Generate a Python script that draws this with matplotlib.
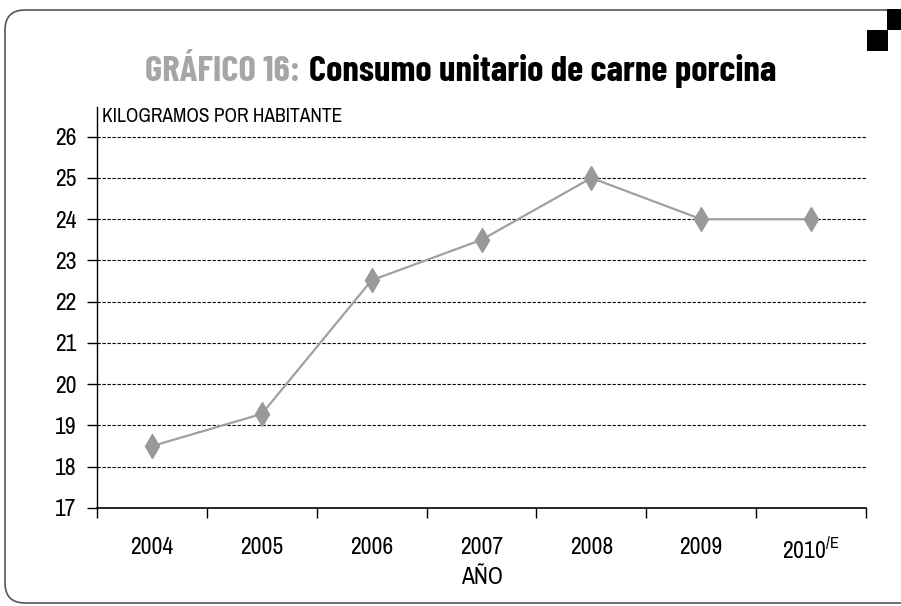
import numpy as np
import matplotlib
matplotlib.use("Agg")
import matplotlib.pyplot as plt
from matplotlib.patches import FancyBboxPatch, Rectangle

plt.rcParams['font.family'] = ['Archivo Narrow', 'DejaVu Sans']
plt.rcParams['mathtext.fontset'] = 'custom'
plt.rcParams['mathtext.rm'] = 'Archivo Narrow'
TITLE_FONT = ['Barlow Condensed', 'DejaVu Sans']

# data
years = ['2004', '2005', '2006', '2007', '2008', '2009', r'2010$^{\mathrm{/E}}$']
kg_per_person = [18.5, 19.28, 22.52, 23.5, 25.0, 24.0, 24.0]
yticks = [17, 18, 19, 20, 21, 22, 23, 24, 25, 26]

W, H = 901, 606
fig = plt.figure(figsize=(W / 100, H / 100), dpi=100)

# frame: rounded box on top/left, cut by the figure edge on the right
frame = FancyBboxPatch((0.05, 0.03), 9.6, 5.93, boxstyle="round,pad=0,rounding_size=0.2",
                       transform=fig.dpi_scale_trans, facecolor='none', edgecolor='#555555',
                       linewidth=1.2, clip_on=False)
fig.patches.append(frame)
fig.patches.append(Rectangle((8.67, 5.55), 0.21, 0.21, transform=fig.dpi_scale_trans,
                             facecolor='black', edgecolor='none'))
fig.patches.append(Rectangle((8.87, 5.76), 0.20, 0.21, transform=fig.dpi_scale_trans,
                             facecolor='black', edgecolor='none'))

ax = fig.add_axes([97 / W, 1 - 508 / H, (866 - 97) / W, (508 - 107) / H])
x = np.arange(len(years))
ax.plot(x, kg_per_person, color='#a0a0a0', lw=1.6, marker='d', markersize=12,
        markerfacecolor='#999999', markeredgecolor='#999999', zorder=3)

ax.set_xlim(-0.5, len(years) - 0.5)
ax.set_ylim(17, 26.72)
ax.set_yticks(yticks)
ax.set_xticks(x)
ax.set_xticklabels(years)
ax.set_xticks(np.arange(-0.5, len(years)), minor=True)
ax.tick_params(axis='x', which='major', length=0, pad=21, labelsize=17)
ax.tick_params(axis='x', which='minor', length=7, width=1, direction='out')
ax.tick_params(axis='y', length=7, width=1, direction='out', pad=8, labelsize=17)
for yv in yticks[1:]:
    ax.axhline(yv, color='black', lw=0.8, ls=(0, (3, 1.5)), zorder=1)
for s in ['top', 'right']:
    ax.spines[s].set_visible(False)
ax.spines['left'].set_linewidth(1)
ax.spines['bottom'].set_linewidth(1.2)
ax.text(0.5, (508 - 578) / 401, 'AÑO', transform=ax.transAxes, fontsize=17,
        ha='center', va='center')
ax.text(0.007, (508 - 116) / 401, 'KILOGRAMOS POR HABITANTE', transform=ax.transAxes,
        fontsize=14, va='center', ha='left')

# two-colour title
fig.canvas.draw()
r = fig.canvas.get_renderer()
t1 = fig.text(145 / W, 1 - 81 / H, 'GRÁFICO 16:', fontsize=26.5, fontweight='bold',
              family=TITLE_FONT, color='#a6a6a6', va='baseline', ha='left')
bb = t1.get_window_extent(r)
fig.text((bb.x1 + 9) / W, 1 - 81 / H, 'Consumo unitario de carne porcina', fontsize=26.5,
         fontweight='bold', family=TITLE_FONT, color='black', va='baseline', ha='left')

fig.savefig('out.png', dpi=100)
